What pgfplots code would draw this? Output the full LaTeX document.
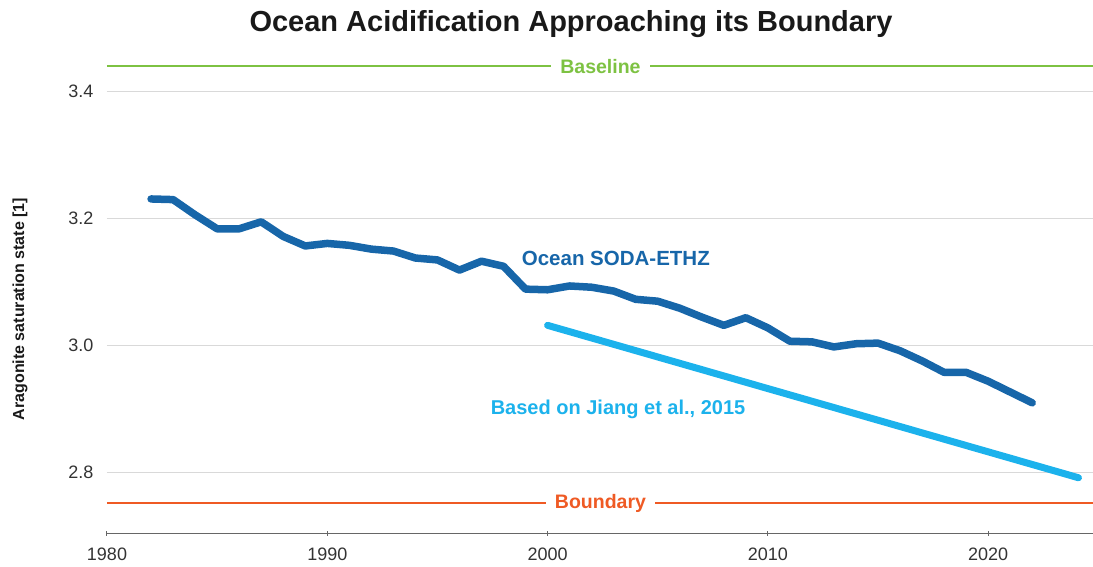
\documentclass[border=0pt]{standalone}
\usepackage{pgfplots}
\pgfplotsset{compat=1.18}
\usepackage{fontspec}
\setmainfont{Liberation Sans}
\definecolor{dblue}{HTML}{1766A9}
\definecolor{lblue}{HTML}{1CB2EC}
\definecolor{bgreen}{HTML}{7DC242}
\definecolor{borange}{HTML}{EF5A24}
\definecolor{tickgray}{HTML}{333333}
\begin{document}
\begin{tikzpicture}
\useasboundingbox (-107pt,-33pt) rectangle (986pt,533pt);
\begin{axis}[
  at={(0pt,0pt)}, anchor=south west,
  scale only axis, width=986pt, height=473.75pt,
  xmin=1980, xmax=2024.76, ymin=2.704, ymax=3.45,
  axis x line*=bottom, axis y line*=left,
  y axis line style={draw=none},
  x axis line style={draw=gray!80!black, line width=1pt},
  xtick={1980,1990,2000,2010,2020},
  ytick={2.8,3.0,3.2,3.4},
  xtick align=center,
  x tick style={draw=gray!80!black, line width=1pt},
  major tick length=5pt,
  y tick style={draw=none},
  ymajorgrids, grid style={draw=gray!30, line width=1pt},
  /pgf/number format/1000 sep={},
  yticklabel={\pgfmathprintnumber[fixed,fixed zerofill,precision=1]{\tick}},
  /pgf/number format/assume math mode=true,
  tick label style={font=\fontsize{18}{20}\selectfont, text=tickgray},
  yticklabel style={anchor=east, xshift=-10pt},
  xticklabel style={anchor=center, yshift=-19pt},
  clip=false,
]
% baseline and boundary
\addplot[bgreen, line width=2.5pt] coordinates {(1980,3.439) (2024.76,3.439)};
\addplot[borange, line width=2.5pt] coordinates {(1980,2.751) (2024.76,2.751)};
\node[fill=white, inner xsep=9pt, text=bgreen, font=\fontsize{19.5}{21}\selectfont\bfseries] at (axis cs:2002.4,3.439) {Baseline};
\node[fill=white, inner xsep=9pt, text=borange, font=\fontsize{19.5}{21}\selectfont\bfseries] at (axis cs:2002.4,2.751) {Boundary};
% Jiang et al.
\addplot[lblue, line width=7pt, line cap=round] coordinates {(2000,3.031) (2024.1,2.791)};
% Ocean SODA-ETHZ
\addplot[dblue, line width=7.5pt, line cap=round, line join=round] coordinates {
(1982,3.230) (1983,3.229) (1984,3.205) (1985,3.183) (1986,3.183) (1987,3.194)
(1988,3.171) (1989,3.156) (1990,3.160) (1991,3.157) (1992,3.151) (1993,3.148)
(1994,3.137) (1995,3.134) (1996,3.118) (1997,3.132) (1998,3.124) (1999,3.088)
(2000,3.087) (2001,3.093) (2002,3.091) (2003,3.085) (2004,3.072) (2005,3.069)
(2006,3.058) (2007,3.044) (2008,3.031) (2009,3.043) (2010,3.027) (2011,3.006)
(2012,3.005) (2013,2.997) (2014,3.002) (2015,3.003) (2016,2.991) (2017,2.975)
(2018,2.957) (2019,2.957) (2020,2.943) (2021,2.926) (2022,2.909)};
\node[text=dblue, font=\fontsize{20.5}{22}\selectfont\bfseries] at (axis cs:2003.1,3.137) {Ocean SODA-ETHZ};
\node[text=lblue, font=\fontsize{20}{22}\selectfont\bfseries] at (axis cs:2003.2,2.898) {Based on Jiang et al., 2015};
\end{axis}
\node[font=\fontsize{29}{31}\selectfont\bfseries, text=black!90] at (464pt,509pt) {Ocean Acidification Approaching its Boundary};
\node[rotate=90, font=\fontsize{16}{18}\selectfont\bfseries, text=black!90] at (-87pt,224pt) {Aragonite saturation state [1]};
\end{tikzpicture}
\end{document}
